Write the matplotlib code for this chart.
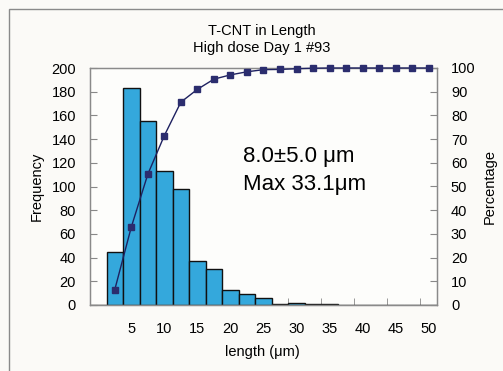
import matplotlib
matplotlib.use("Agg")
import matplotlib.pyplot as plt
from matplotlib.patches import Rectangle
from matplotlib.ticker import FixedLocator

# ---- data ----
bin_labels = [0, 2.5, 5, 7.5, 10, 12.5, 15, 17.5, 20, 22.5, 25, 27.5, 30,
              32.5, 35, 37.5, 40, 42.5, 45, 47.5, 50]
frequency = [0, 45, 183, 155, 113, 98, 37, 30, 13, 9, 6, 1, 2, 1, 1,
             0, 0, 0, 0, 0, 0]
cum_percent = [None, 6.5, 32.9, 55.2, 71.5, 85.6, 91.0, 95.3, 97.1, 98.4,
               99.3, 99.4, 99.7, 99.9, 100, 100, 100, 100, 100, 100, 100]
x_tick_labels = ["5", "10", "15", "20", "25", "30", "35", "40", "45", "50"]
title_lines = ["T-CNT in Length", "High dose Day 1 #93"]
annotation = ["8.0\u00b15.0 \u03bcm", "Max 33.1\u03bcm"]

plt.rcParams['font.family'] = ['Liberation Sans', 'DejaVu Sans']
W, H = 503, 371
fig = plt.figure(figsize=(W / 100, H / 100), dpi=100)
fig.patch.set_facecolor('#fbfaf7')

# outer chart border
fig.patches.append(Rectangle((9 / W, -0.1), 2, 1 - 9 / H + 0.1,
                             transform=fig.transFigure, fill=False,
                             edgecolor='#8a8a8a', linewidth=1.0))

ax = fig.add_axes([90 / W, 1 - 305 / H, (437 - 90) / W, (305 - 68) / H])
ax.set_facecolor('#fdfdfb')
idx = list(range(len(bin_labels)))
ax.bar(idx, frequency, width=1.0, color='#34a8dc', edgecolor='#111111',
       linewidth=1.0, zorder=2)
ax.set_xlim(-0.5, len(bin_labels) - 0.5)
ax.set_ylim(0, 200)
ax.set_yticks(range(0, 201, 20))

label_pos = [i for i, v in enumerate(bin_labels) if v > 0 and v % 5 == 0]
ax.xaxis.set_major_locator(FixedLocator(label_pos))
ax.set_xticklabels(x_tick_labels)
ax.xaxis.set_minor_locator(FixedLocator([i + 0.5 for i in range(1, len(bin_labels) - 1, 2)]))
ax.tick_params(axis='x', which='major', length=0, pad=12, labelsize=10.5)
ax.tick_params(axis='x', which='minor', direction='in', length=5,
               color='#888888')
ax.tick_params(axis='y', direction='in', length=5, color='#888888',
               pad=10, labelsize=10.5)
for s in ax.spines.values():
    s.set_color('#8a8a8a')
    s.set_linewidth(0.9)

ax2 = ax.twinx()
px = [i for i, v in zip(idx, cum_percent) if v is not None]
py = [v for v in cum_percent if v is not None]
ax2.plot(px, py, color='#1e2160', linewidth=1.0, marker='s', markersize=4.5,
         markerfacecolor='#2b2d6e', markeredgecolor='#2b2d6e', zorder=3,
         clip_on=False)
ax2.set_ylim(0, 100)
ax2.set_yticks(range(0, 101, 10))
ax2.tick_params(axis='y', direction='in', length=5, color='#888888',
                pad=10, labelsize=10.5)
for s in ax2.spines.values():
    s.set_color('#8a8a8a')
    s.set_linewidth(0.9)

fig.text(37 / W, 1 - 186 / H, "Frequency", rotation=90, ha='center',
         va='center', fontsize=10.5)
fig.text(490 / W, 1 - 186 / H, "Percentage", rotation=90, ha='center',
         va='center', fontsize=10.5)
fig.text(262 / W, 1 - 352 / H, "length (\u03bcm)", ha='center', va='center',
         fontsize=10.5)

fig.text(262 / W, 1 - 31 / H, title_lines[0], ha='center', va='center',
         fontsize=10.5)
fig.text(262 / W, 1 - 48 / H, title_lines[1], ha='center', va='center',
         fontsize=10.5)

ax.text(0.442, 0.605, annotation[0], transform=ax.transAxes, fontsize=16,
        ha='left', va='baseline')
ax.text(0.442, 0.487, annotation[1], transform=ax.transAxes, fontsize=16,
        ha='left', va='baseline')

fig.savefig("out.png", dpi=100, facecolor=fig.get_facecolor())
